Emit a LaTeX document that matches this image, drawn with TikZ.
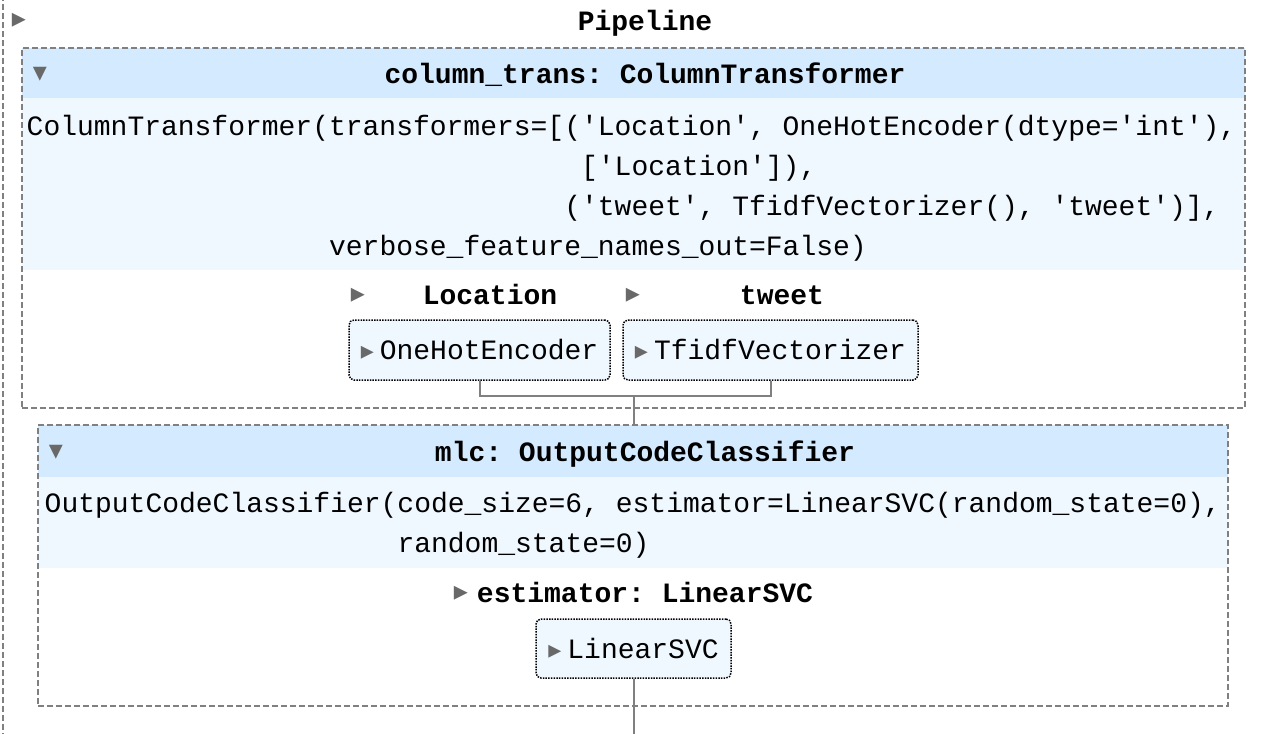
\documentclass[tikz,border=0pt]{standalone}
\usepackage{fontspec}
\setmonofont{Liberation Mono}
\newfontfamily\symfont{DejaVu Sans}
\definecolor{headblue}{HTML}{D4EBFF}
\definecolor{codeblue}{HTML}{F0F8FF}
\definecolor{tricolor}{HTML}{696969}
\definecolor{wiregray}{HTML}{808080}
\newcommand{\esttri}{{\fontsize{26}{26}\selectfont\symfont\color{tricolor}▸}\hspace{6pt}}

\begin{document}
\begin{tikzpicture}[x=1pt,y=-1pt,
    every node/.style={font=\fontsize{28}{40}\selectfont\ttfamily},
    box/.style={draw=wiregray,line width=1.5pt,dash pattern=on 6pt off 3pt,inner sep=0pt},
    code/.style={anchor=base west,inner sep=0pt},
    title/.style={anchor=base,inner sep=0pt,font=\fontsize{28}{40}\selectfont\ttfamily\bfseries},
    tri/.style={text=tricolor,inner sep=0pt,font=\fontsize{28}{28}\selectfont\symfont},
    est/.style={draw,line width=1.5pt,dash pattern=on 1.5pt off 1.2pt,rounded corners=5pt,fill=codeblue,inner sep=0pt,minimum height=60pt},
    wire/.style={draw=wiregray,line width=2pt}]
    \useasboundingbox (0,0) rectangle (1262,734);%

    \draw[box] (3,-5) -- (3,740);%
    \node[tri] (pipetri) at (19,20) {▸};%
    \node[title] (pipe) at (645,30) {Pipeline};%

    \fill[headblue] (22,48) rectangle (1245,98);%
    \fill[codeblue] (22,98) rectangle (1245,270);%
    \node[box,minimum width=1223pt,minimum height=360pt] (ctbox) at (633.5,228) {};%
    \node[tri] (cttri) at (40,74) {▾};%
    \node[title] (cthead) at (645,83) {column\_trans: ColumnTransformer};%
    \node[code] (ct1) at (26.5,135) {ColumnTransformer(transformers=[('Location', OneHotEncoder(dtype='int'),};%
    \node[code] (ct2) at (580.9,175) {['Location']),};%
    \node[code] (ct3) at (564.1,215) {('tweet', TfidfVectorizer(), 'tweet')],};%
    \node[code] (ct4) at (328.9,255) {verbose\_feature\_names\_out=False)};%

    \node[tri] (loctri) at (358,295) {▸};%
    \node[title] (locname) at (490,304) {Location};%
    \node[tri] (twtri) at (633,295) {▸};%
    \node[title] (twname) at (782,304) {tweet};%
    \node[est,minimum width=261pt] (ohe) at (479.5,350) {\esttri OneHotEncoder};%
    \node[est,minimum width=295pt] (tfidf) at (770.5,350) {\esttri TfidfVectorizer};%

    \fill[headblue] (38,425) rectangle (1228,477);%
    \fill[codeblue] (38,477) rectangle (1228,568);%
    \node[box,minimum width=1190pt,minimum height=281pt] (mlcbox) at (633,565.5) {};%
    \node[tri] (mlctri) at (56,452) {▾};%
    \node[title] (mlchead) at (645,461) {mlc: OutputCodeClassifier};%
    \node[code] (mlc1) at (44.5,512) {OutputCodeClassifier(code\_size=6, estimator=LinearSVC(random\_state=0),};%
    \node[code] (mlc2) at (397.3,552) {random\_state=0)};%

    \node[tri] (esttri) at (461,593) {▸};%
    \node[title] (estname) at (645,602) {estimator: LinearSVC};%
    \node[est,minimum width=195pt,minimum height=59pt] (svc) at (633.5,648.5) {\esttri LinearSVC};%

    \coordinate (join) at (634,396);%
    \coordinate (tail) at (634,734);%
    \draw[wire] (ohe.south) |- (join) -| (tfidf.south);%
    \draw[wire] (join) -- (join |- mlcbox.north);%
    \draw[wire] (svc.south) -- (svc.south |- tail);%
\end{tikzpicture}
\end{document}
